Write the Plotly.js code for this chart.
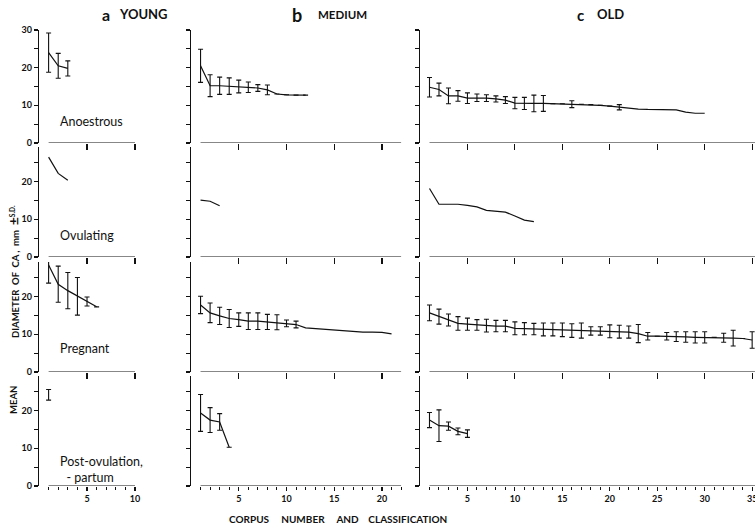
<!DOCTYPE html>
<html><head><meta charset="utf-8">
<script src="https://cdn.plot.ly/plotly-3.0.1.min.js"></script>
<style>html,body{margin:0;padding:0;background:#fff}</style>
</head><body><div id="chart" style="width:755px;height:527px"></div>
<script>
// ---------- data (mean corpus diameter, mm, and S.D.; x = corpus number 1..n) ----------
const groupLetters = ['a', 'b', 'c'];
const groupNames = ['YOUNG', 'MEDIUM', 'OLD'];
const stateNames = ['Anoestrous', 'Ovulating', 'Pregnant', 'Post-ovulation,<br>  - partum'];

const youngAnoMean = [24.0, 20.5, 19.8];
const youngAnoSD   = [5.2, 3.3, 2.0];
const youngOvuMean = [26.5, 22.2, 20.4];
const youngPregMean = [28.4, 23.3, 21.6, 20.1, 18.7, 17.3];
const youngPregSD   = [4.8, 4.8, 4.8, 5.0, 1.2, null];
const youngPostMean = [24.2];
const youngPostSD   = [1.4];

const medAnoMean = [20.5, 15.2, 15.2, 15.1, 15.0, 14.8, 14.6, 14.1, 13.0, 12.8, 12.7, 12.7];
const medAnoSD   = [4.4, 2.9, 2.3, 2.2, 1.7, 1.4, 0.9, 1.3, null, null, null, null];
const medOvuMean = [15.1, 14.8, 13.6];
const medPregMean = [17.8, 15.7, 14.9, 14.2, 13.9, 13.5, 13.5, 13.3, 13.2, 12.9, 12.6, 11.7, 11.5, 11.3, 11.1, 10.9, 10.7, 10.6, 10.6, 10.5, 10.1];
const medPregSD   = [2.3, 2.6, 2.3, 2.4, 1.8, 2.2, 2.2, 2.0, 2.0, 0.9, 0.9];
const medPostMean = [19.4, 17.5, 17.0, 10.3];
const medPostSD   = [4.9, 3.3, 2.2, null];

const oldAnoMean = [14.8, 14.2, 12.5, 12.5, 11.9, 12.0, 11.9, 11.7, 11.4, 10.6, 10.5, 10.5, 10.5, 10.4, 10.4, 10.3, 10.3, 10.2, 10.0, 9.8, 9.5, 9.3, 9.0, 8.9, 8.9, 8.9, 8.8, 8.2, 7.9, 7.9];
const oldAnoSD   = [2.6, 1.7, 2.1, 1.4, 1.4, 1.0, 0.9, 0.8, 0.9, 1.5, 1.6, 2.2, 2.1, null, null, 0.9, null, null, null, null, 0.7];
const oldOvuMean = [18.2, 14.0, 14.0, 14.0, 13.7, 13.3, 12.4, 12.2, 11.9, 10.9, 9.8, 9.4];
const oldPregMean = [15.7, 14.7, 13.8, 12.9, 12.7, 12.5, 12.3, 12.2, 12.2, 11.6, 11.5, 11.4, 11.3, 11.3, 11.2, 11.0, 11.0, 10.9, 10.9, 10.8, 10.7, 10.6, 10.2, 9.5, 9.5, 9.5, 9.4, 9.3, 9.2, 9.2, 9.2, 9.1, 9.0, 8.9, 8.5];
const oldPregSD   = [2.1, 2.0, 1.6, 1.8, 1.6, 1.4, 1.7, 1.5, 1.5, 1.7, 1.6, 1.5, 1.7, 1.7, 1.8, 1.8, 2.0, 1.1, 1.1, 1.7, 1.7, 1.6, 2.4, 1.0, null, 1.0, 1.3, 1.4, 1.5, 1.5, null, 1.2, 2.1, null, 2.2];
const oldPostMean = [17.5, 16.0, 15.9, 14.5, 13.9];
const oldPostSD   = [2.0, 4.2, 1.1, 0.9, 1.0];

// panels[row][col] = [means, sds]
const panels = [
  [[youngAnoMean, youngAnoSD], [medAnoMean, medAnoSD], [oldAnoMean, oldAnoSD]],
  [[youngOvuMean, null], [medOvuMean, null], [oldOvuMean, null]],
  [[youngPregMean, youngPregSD], [medPregMean, medPregSD], [oldPregMean, oldPregSD]],
  [[youngPostMean, youngPostSD], [medPostMean, medPostSD], [oldPostMean, oldPostSD]]
];
const xMax = [10.1, 22.2, 35.3];
const axisEnd = [10, 22, 36];

// ---------- layout geometry (pixels) ----------
const W = 755, H = 527;
const colPx = [[39, 136], [191, 403], [420, 755]];
const rowZeroPx = [143, 257, 372, 486];
const pxPerUnit = 3.767;
const yTop = [30, 29.2, 29.2, 29.2];

const FONT = 'Lato, "Open Sans", sans-serif';
const traces = [];
const layout = {
  width: W, height: H,
  margin: {l: 0, r: 0, t: 0, b: 0},
  paper_bgcolor: '#fff', plot_bgcolor: 'rgba(0,0,0,0)',
  showlegend: false,
  font: {family: FONT, color: '#111'},
  shapes: [], annotations: []
};

function seq(a, b, step) { const o = []; for (let v = a; v <= b + 1e-9; v += step) o.push(v); return o; }

for (let r = 0; r < 4; r++) {
  for (let c = 0; c < 3; c++) {
    const n = r * 3 + c + 1;
    const xa = 'x' + (n === 1 ? '' : n), ya = 'y' + (n === 1 ? '' : n);
    const [m, sd] = panels[r][c];
    const xs = m.map((_, i) => i + 1);
    const tr = {
      type: 'scatter', mode: 'lines', x: xs, y: m, xaxis: xa, yaxis: ya,
      line: {color: '#111', width: 1.2}, hoverinfo: 'skip', cliponaxis: false
    };
    if (sd) tr.error_y = {type: 'data', array: sd, visible: true, color: '#111', thickness: 1.1, width: 2.5};
    traces.push(tr);

    const top = rowZeroPx[r] - yTop[r] * pxPerUnit;
    const ticks5 = seq(5, axisEnd[c], 5);
    const xaxis = {
      domain: [colPx[c][0] / W, colPx[c][1] / W], range: [0, xMax[c]], anchor: ya,
      showline: false, showgrid: false, zeroline: false,
      ticks: 'outside', tickmode: 'array', tickvals: ticks5, ticktext: ticks5.map(String),
      ticklen: r < 3 ? 6 : 4, tickwidth: 1.1, tickcolor: '#111', ticklabeloverflow: 'allow',
      showticklabels: r === 3, tickfont: {family: FONT, size: 9, weight: 700, color: '#111'}
    };
    if (r === 3) xaxis.minor = {ticks: 'outside', tickmode: 'array', tickvals: seq(1, axisEnd[c], 1), ticklen: 3, tickwidth: 1, tickcolor: '#111', showgrid: false};
    layout['xaxis' + (n === 1 ? '' : n)] = xaxis;

    const ytv = seq(0, yTop[r], 5);
    layout['yaxis' + (n === 1 ? '' : n)] = {
      domain: [(H - rowZeroPx[r]) / H, (H - top) / H], range: [0, yTop[r]], anchor: xa,
      showline: true, linewidth: 1.2, linecolor: '#111', showgrid: false, zeroline: false,
      ticks: 'outside', tickmode: 'array', tickvals: ytv, ticktext: ytv.map(v => v % 10 === 0 ? String(v) : ' '),
      ticklen: 4, tickwidth: 1.1, tickcolor: '#111',
      showticklabels: c === 0, tickfont: {family: FONT, size: 9, weight: 700, color: '#111'}
    };
    // detached x-axis baseline from corpus 1 to end of axis
    layout.shapes.push({type: 'line', xref: xa, yref: ya, x0: 1, x1: axisEnd[c], y0: 0, y1: 0, line: {color: '#111', width: 1.2}});
  }
}

// column headings
const headPos = [[106, 143], [297, 342], [580, 610]];
const headSize = [[16, 13], [18, 11.5], [15, 13]];
for (let c = 0; c < 3; c++) {
  layout.annotations.push({xref: 'paper', yref: 'paper', x: headPos[c][0] / W, y: (H - 15) / H, text: groupLetters[c], showarrow: false,
    xanchor: 'center', yanchor: 'middle', font: {family: FONT, size: headSize[c][0], weight: 700, color: '#111'}});
  layout.annotations.push({xref: 'paper', yref: 'paper', x: headPos[c][1] / W, y: (H - 14) / H, text: groupNames[c], showarrow: false,
    xanchor: 'center', yanchor: 'middle', font: {family: FONT, size: headSize[c][1], weight: 700, color: '#111'}});
}
// row labels
const rowLabelY = [121, 235, 348, 469];
for (let r = 0; r < 4; r++) {
  layout.annotations.push({xref: 'paper', yref: 'paper', x: 58 / W, y: (H - rowLabelY[r]) / H, text: stateNames[r], showarrow: false,
    xanchor: 'left', yanchor: 'middle', align: 'left', font: {family: FONT, size: 12.5, color: '#111'}});
}
// y-axis title
layout.annotations.push({xref: 'paper', yref: 'paper', x: 13 / W, y: (H - 400) / H, text: 'MEAN', textangle: -90, showarrow: false,
  xanchor: 'center', yanchor: 'middle', font: {family: FONT, size: 9.5, weight: 700, color: '#111'}});
layout.annotations.push({xref: 'paper', yref: 'paper', x: 13 / W, y: (H - 272) / H,
  text: 'DIAMETER\u00a0 OF\u00a0 CA ,\u00a0 mm\u00a0 <span style="font-size:14px">±</span><sup>S.D.</sup>', textangle: -90, showarrow: false,
  xanchor: 'center', yanchor: 'middle', font: {family: FONT, size: 9.5, weight: 700, color: '#111'}});
// x-axis title
layout.annotations.push({xref: 'paper', yref: 'paper', x: 338 / W, y: (H - 519) / H,
  text: 'CORPUS\u00a0\u00a0\u00a0\u00a0 NUMBER\u00a0\u00a0\u00a0\u00a0 AND\u00a0\u00a0\u00a0 CLASSIFICATION', showarrow: false,
  xanchor: 'center', yanchor: 'middle', font: {family: FONT, size: 10, weight: 700, color: '#111'}});

Plotly.newPlot('chart', traces, layout, {displayModeBar: false, staticPlot: true});
</script></body></html>
